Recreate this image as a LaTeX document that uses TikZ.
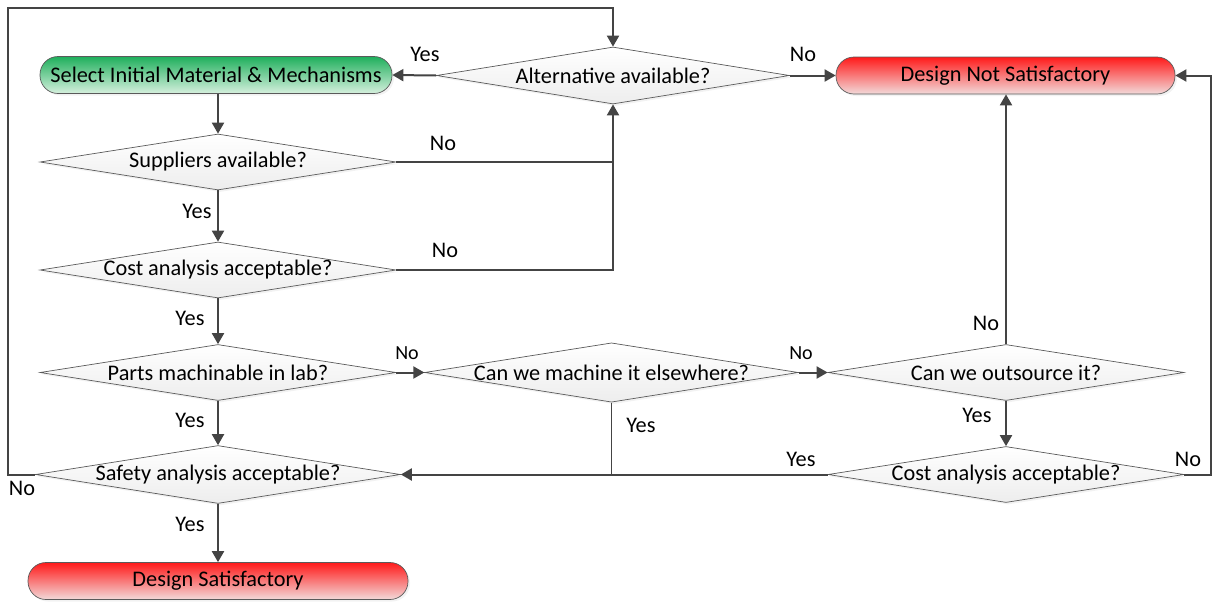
\documentclass[tikz,border=0pt]{standalone}
\usepackage{fontspec}
\setmainfont{Carlito}
\usetikzlibrary{shapes.geometric,arrows.meta,shadows}
\definecolor{lnc}{HTML}{444444}
\definecolor{bdc}{HTML}{5A5A5A}
\definecolor{gtop}{HTML}{1FAF5C}
\definecolor{gbot}{HTML}{D6F0DE}
\definecolor{rtop}{HTML}{FF1A1A}
\definecolor{rbot}{HTML}{F2DADA}
\definecolor{dbot}{HTML}{EDEDED}
\begin{document}
\begin{tikzpicture}[x=1pt,y=-1pt,
  txt/.style={font=\fontsize{22.3}{26}\selectfont},
  dec/.style={diamond,draw=bdc,line width=0.7pt,inner sep=0pt,aspect=6.3,
    minimum width=356pt,minimum height=56pt,top color=white,bottom color=dbot,
    drop shadow={shadow xshift=2pt,shadow yshift=-2pt,fill=black!10},txt},
  term/.style={rectangle,rounded corners=18pt,draw=bdc,line width=0.7pt,
    minimum height=37pt,drop shadow={shadow xshift=2pt,shadow yshift=-2pt,fill=black!10},txt},
  gterm/.style={term,top color=gtop,bottom color=gbot},
  rterm/.style={term,top color=rtop,bottom color=rbot},
  lin/.style={draw=lnc,line width=2pt},
  conn/.style={lin,-{Triangle[length=11pt,width=12pt]}},
  lab/.style={txt,inner sep=0pt},
  slab/.style={font=\fontsize{20}{24}\selectfont,inner sep=0pt}]
\useasboundingbox (0,0) rectangle (1212,603);

% nodes
\node[gterm,minimum width=352pt] (sel) at (216,75) {Select Initial Material \& Mechanisms};
\node[dec,minimum width=353pt,minimum height=57pt] (alt) at (613,75.5) {Alternative available?};
\node[rterm,minimum width=339pt] (dns) at (1005.5,75.5) {Design Not Satisfactory};
\node[dec] (sup) at (218,162) {Suppliers available?};
\node[dec] (cost1) at (218,270) {Cost analysis acceptable?};
\node[dec] (parts) at (218,372.5) {Parts machinable in lab?};
\node[dec,minimum width=357pt] (mach) at (611.5,372.5) {Can we machine it elsewhere?};
\node[dec] (out) at (1006,372.5) {Can we outsource it?};
\node[dec] (safe) at (218,474.5) {Safety analysis acceptable?};
\node[dec] (cost2) at (1006,474.5) {Cost analysis acceptable?};
\node[rterm,minimum width=380pt,minimum height=37pt] (ds) at (218,581) {Design Satisfactory};

\coordinate (lb) at (8,474.5);
\coordinate (lt) at (8,8);
\coordinate (rc) at (1211,474.5);

% connectors
\draw[conn] (sup.north |- sel.south) -- (sup.north);
\draw[lin] (sup.east) -- (sup.east -| alt.south);
\draw[conn] (cost1.east) -| (alt.south);
\draw[conn] (alt.west) -- (sel.east);
\draw[conn] (alt.east) -- (dns.west);
\draw[conn] (sup.south) -- (cost1.north);
\draw[conn] (cost1.south) -- (parts.north);
\draw[conn] (parts.south) -- (safe.north);
\draw[conn] (parts.east) -- (mach.west);
\draw[conn] (mach.east) -- (out.west);
\draw[lin,line width=1.6pt] (mach.south) -- (mach.south |- safe.east);
\draw[conn] (cost2.west) -- (safe.east);
\draw[conn] (out.north) -- (out.north |- dns.south);
\draw[conn] (out.south) -- (cost2.north);
\draw[conn] (cost2.east) -- (rc) |- (dns.east);
\draw[conn] (safe.west) -- (lb) -- (lt) -| (alt.north);
\draw[conn] (safe.south) -- (ds.north);

% labels
\node[lab] (l1) at (425,54) {Yes};
\node[lab] (l2) at (803,54) {No};
\node[lab] (l3) at (443,143) {No};
\node[lab] (l4) at (197,211) {Yes};
\node[lab] (l5) at (445,250) {No};
\node[lab] (l6) at (190,318) {Yes};
\node[slab] (l7) at (407,353) {No};
\node[slab] (l8) at (801,353) {No};
\node[lab] (l9) at (190,420) {Yes};
\node[lab] (l10) at (641,425) {Yes};
\node[lab] (l11) at (986,323) {No};
\node[lab] (l12) at (977,415) {Yes};
\node[lab] (l13) at (801,459) {Yes};
\node[lab] (l14) at (1188,459) {No};
\node[lab] (l15) at (22,488) {No};
\node[lab] (l16) at (190,524) {Yes};
\end{tikzpicture}
\end{document}
